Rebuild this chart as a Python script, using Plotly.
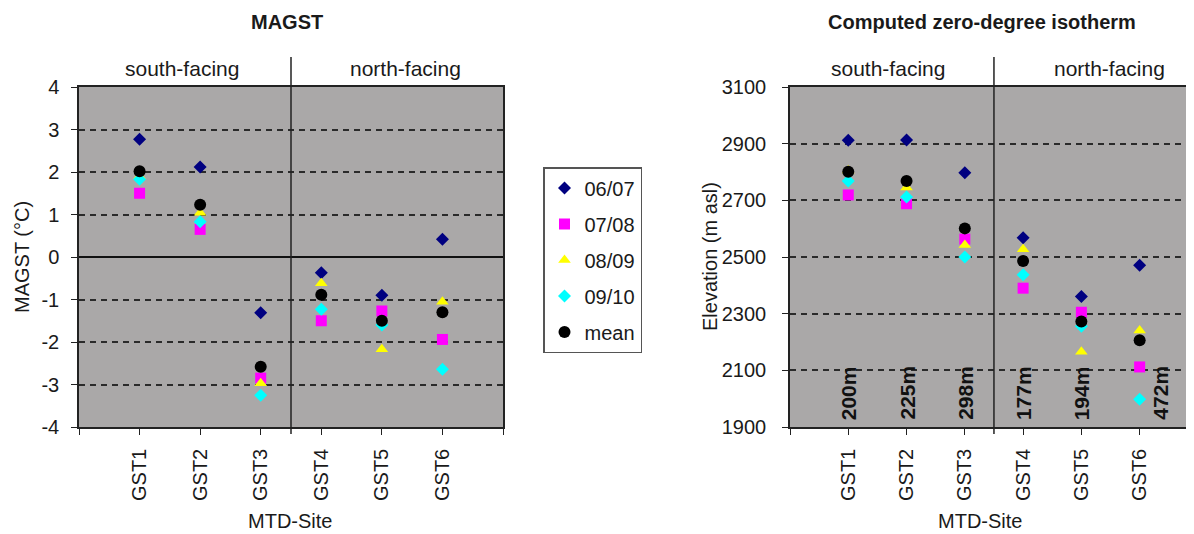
import plotly.graph_objects as go

sites = ["GST1", "GST2", "GST3", "GST4", "GST5", "GST6"]
site_pos = [1, 2, 3, 4, 5, 6]
series_names = ["06/07", "07/08", "08/09", "09/10", "mean"]

magst_0607 = [2.77, 2.12, -1.31, -0.37, -0.90, 0.42]
magst_0708 = [1.50, 0.65, -2.85, -1.50, -1.27, -1.94]
magst_0809 = [1.90, 1.04, -2.97, -0.62, -2.17, -1.05]
magst_0910 = [1.83, 0.83, -3.25, -1.23, -1.60, -2.64]
magst_mean = [2.02, 1.23, -2.58, -0.89, -1.50, -1.30]

iso_0607 = [2912, 2913, 2797, 2568, 2361, 2471]
iso_0708 = [2719, 2688, 2563, 2390, 2305, 2112]
iso_0809 = [2805, 2745, 2542, 2527, 2166, 2241]
iso_0910 = [2768, 2712, 2500, 2437, 2256, 1998]
iso_mean = [2801, 2768, 2601, 2486, 2272, 2206]

distances = ["200m", "225m", "298m", "177m", "194m", "472m"]

magst_ticks = [4, 3, 2, 1, 0, -1, -2, -3, -4]
magst_ticktext = ["4", "3", "2", "1", "0", "-1", "-2", "-3", "-4"]
iso_ticks = [3100, 2900, 2700, 2500, 2300, 2100, 1900]

W, H = 1194, 534
OX, OY = 8, 8  # page body margin offset
FONT = "Arial, Liberation Sans, sans-serif"
TXT = "#1a1a1a"
BG = "#aaa8a8"

styles = [
    dict(symbol="diamond", color="#000080", size=10),
    dict(symbol="square", color="#ff00ff", size=11),
    dict(symbol="triangle-up", color="#ffff00", size=11),
    dict(symbol="diamond", color="#00ffff", size=10),
    dict(symbol="circle", color="#000000", size=12),
]

fig = go.Figure()
left = [magst_0607, magst_0708, magst_0809, magst_0910, magst_mean]
right = [iso_0607, iso_0708, iso_0809, iso_0910, iso_mean]
for name, st, vals in zip(series_names, styles, left):
    fig.add_trace(go.Scatter(
        x=site_pos, y=vals, mode="markers", name=name, legendgroup=name,
        marker=dict(symbol=st["symbol"], color=st["color"], size=st["size"], line=dict(width=0)),
        xaxis="x", yaxis="y", showlegend=True))
for name, st, vals in zip(series_names, styles, right):
    fig.add_trace(go.Scatter(
        x=site_pos, y=vals, mode="markers", name=name, legendgroup=name,
        marker=dict(symbol=st["symbol"], color=st["color"], size=st["size"], line=dict(width=0)),
        xaxis="x2", yaxis="y2", showlegend=False))

def px_x(p):
    return (p - OX) / W

def px_y(p):
    return (H - (p - OY)) / H

ydom = [px_y(427), px_y(87)]
grid = dict(showgrid=True, gridcolor="#2a2a2a", griddash="6px,5px", gridwidth=1.5)
tickfont = dict(family=FONT, size=20, color=TXT)

fig.update_layout(
    width=W, height=H,
    margin=dict(l=0, r=0, t=0, b=0, pad=0, autoexpand=False),
    paper_bgcolor="white",
    plot_bgcolor=BG,
    font=dict(family=FONT, size=20, color=TXT),
    xaxis=dict(domain=[px_x(79), px_x(503)], range=[0, 7], automargin=False,
               tickvals=[0] + site_pos + [7], ticktext=[""] + sites + [""],
               tickangle=-90, tickfont=tickfont, ticks="outside", ticklen=6,
               tickcolor="#222", showline=True, linecolor="#222", linewidth=1.5,
               mirror=True, showgrid=False, zeroline=False, ticklabelstandoff=6),
    yaxis=dict(domain=ydom, range=[-4, 4], tickvals=magst_ticks, ticktext=magst_ticktext,
               automargin=False,
               tickfont=tickfont, ticks="outside", ticklen=6, tickcolor="#222",
               showline=True, linecolor="#222", linewidth=1.5, mirror=True,
               zeroline=True, zerolinecolor="#111", zerolinewidth=1.5,
               ticklabelstandoff=8, **grid),
    xaxis2=dict(domain=[px_x(790), 1.0], range=[0, 7.07], anchor="y2", automargin=False,
                tickvals=[0] + site_pos, ticktext=[""] + sites,
                tickangle=-90, tickfont=tickfont, ticks="outside", ticklen=6,
                tickcolor="#222", showline=True, linecolor="#222", linewidth=1.5,
                mirror=True, showgrid=False, zeroline=False, ticklabelstandoff=6),
    yaxis2=dict(domain=ydom, range=[1900, 3100], tickvals=iso_ticks, anchor="x2",
                automargin=False,
                tickfont=tickfont, ticks="outside", ticklen=6, tickcolor="#222",
                showline=True, linecolor="#222", linewidth=1.5, mirror=True,
                zeroline=False, ticklabelstandoff=12, **grid),
    legend=dict(x=px_x(543), y=px_y(167), xanchor="left", yanchor="top",
                bgcolor="white", bordercolor="#555", borderwidth=1.5,
                font=dict(family=FONT, size=20, color=TXT),
                traceorder="grouped", tracegroupgap=7, itemwidth=30),
    showlegend=True,
)

anns = []
def add_text(text, x, y, size=20, bold=False, angle=0):
    anns.append(dict(text=f"<b>{text}</b>" if bold else text, x=px_x(x), y=px_y(y),
                     xref="paper", yref="paper", showarrow=False, textangle=angle,
                     xanchor="center", yanchor="middle",
                     font=dict(family=FONT, size=size, color=TXT)))

add_text("MAGST", 287, 22, size=20, bold=True)
add_text("Computed zero-degree isotherm", 982, 22, size=20, bold=True)
add_text("south-facing", 182, 69, size=21)
add_text("north-facing", 405, 69, size=21)
add_text("south-facing", 888, 69, size=21)
add_text("north-facing", 1109, 69, size=21)
add_text("MAGST (°C)", 22, 257, size=20, angle=-90)
add_text("Elevation (m asl)", 710, 257, size=20, angle=-90)
add_text("MTD-Site", 290, 521, size=20)
add_text("MTD-Site", 980, 521, size=20)

label_shift = [0, 0, 0, 0, 0, 20]
for pos, d, sh in zip(site_pos, distances, label_shift):
    anns.append(dict(text=f"<b>{d}</b>", x=pos, y=px_y(422), xref="x2", yref="paper",
                     showarrow=False, textangle=-90, xanchor="center", yanchor="bottom",
                     xshift=sh, font=dict(family=FONT, size=21, color="#111")))

fig.update_layout(annotations=anns)

shapes = []
for xr in ["x", "x2"]:
    shapes.append(dict(type="line", xref=xr, yref="paper", x0=3.5, x1=3.5,
                       y0=px_y(434), y1=px_y(57), line=dict(color="#222", width=1.5)))
fig.update_layout(shapes=shapes)

fig.write_html("out.html")
